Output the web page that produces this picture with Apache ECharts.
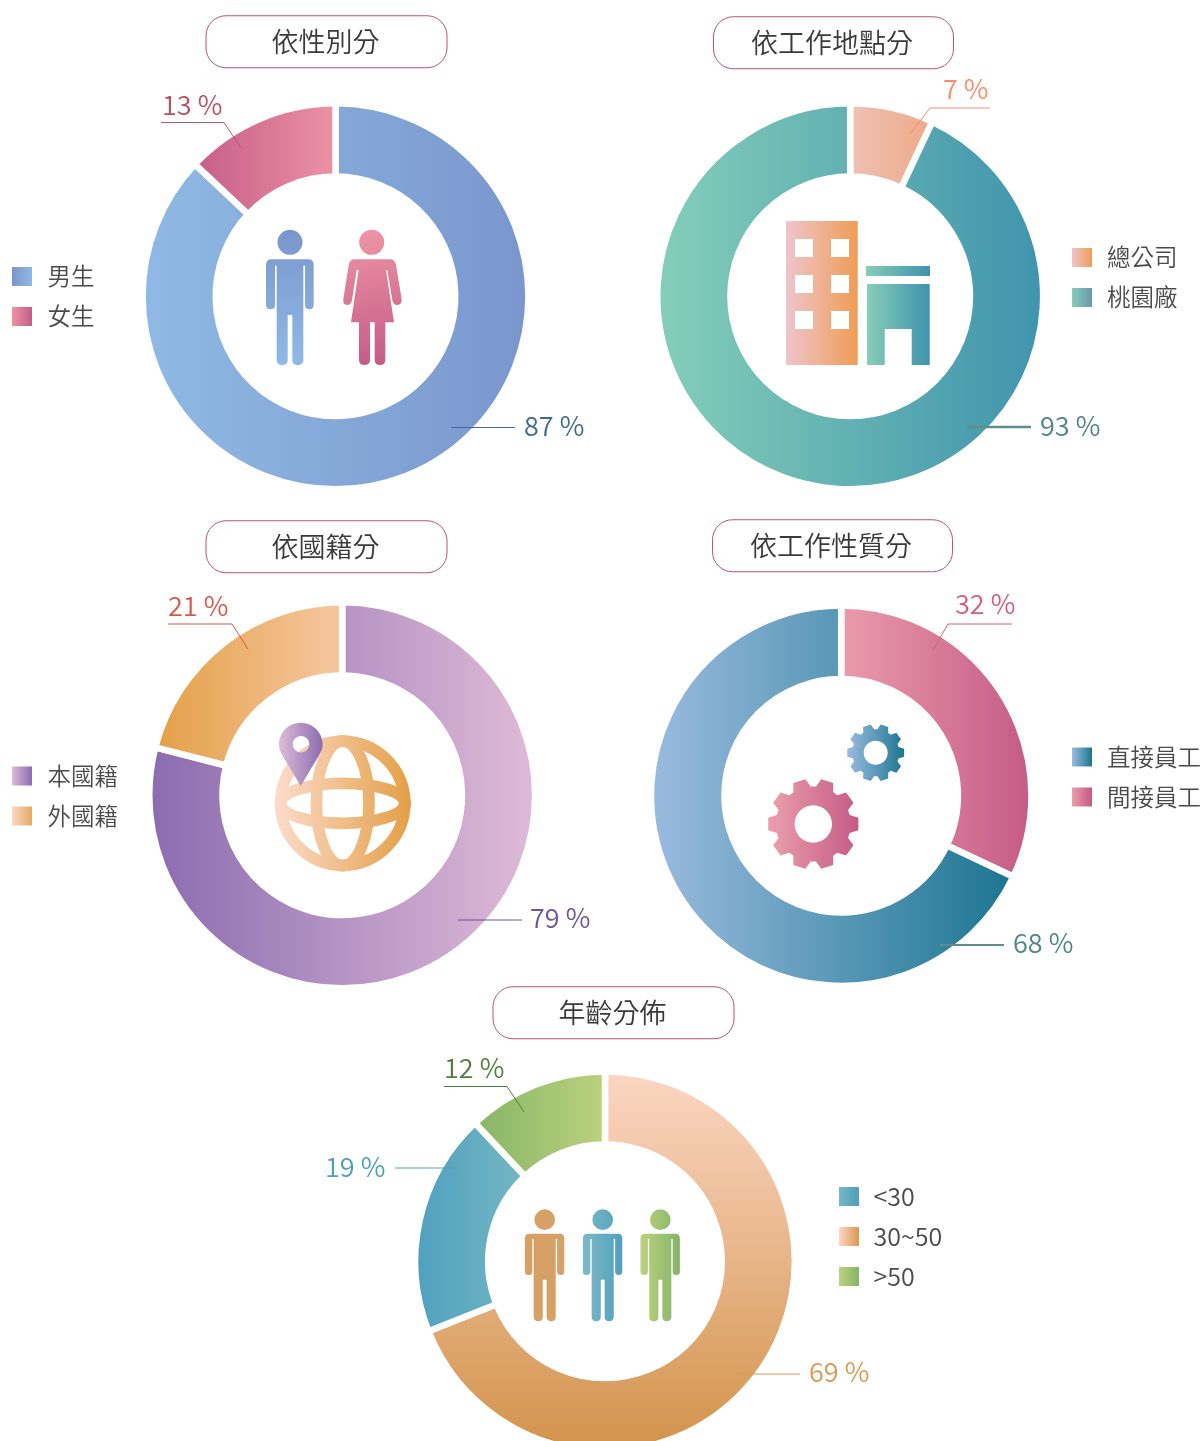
<!DOCTYPE html>
<html><head><meta charset="utf-8">
<style>html,body{margin:0;padding:0;background:#fff;overflow:hidden}#c{width:1202px;height:1441px}</style>
<script src="https://cdn.jsdelivr.net/npm/echarts@6/dist/echarts.min.js"></script>
</head><body><div id="c"></div>
<script>
// ---- data ----
const genderNames = ['男生','女生'];            const genderValues = [87,13];
const siteNames = ['總公司','桃園廠'];          const siteValues = [7,93];
const nationNames = ['本國籍','外國籍'];        const nationValues = [79,21];
const workNames = ['間接員工','直接員工'];      const workValues = [32,68];
const ageNames = ['30~50','<30','>50'];         const ageValues = [69,19,12];
const titles = ['依性別分','依工作地點分','依國籍分','依工作性質分','年齡分佈'];
const legendOrders = [['男生','女生'],['總公司','桃園廠'],['本國籍','外國籍'],['直接員工','間接員工'],['<30','30~50','>50']];

// ---- styling and layout ----
const FONT = '"Noto Sans CJK TC","Noto Sans",sans-serif';
const WEIGHT = 350;
const h = (a,b)=>({type:'linear',x:0,y:0,x2:1,y2:0,colorStops:[{offset:0,color:a},{offset:1,color:b}]});
const v = (a,b)=>({type:'linear',x:0,y:0,x2:0,y2:1,colorStops:[{offset:0,color:a},{offset:1,color:b}]});
const gh = (a,b,x,x2)=>({type:'linear',x,y:0,x2,y2:0,global:true,colorStops:[{offset:0,color:a},{offset:1,color:b}]});
const gv = (a,b,y,y2,x=0,x2=0)=>({type:'linear',x,y,x2,y2,global:true,colorStops:[{offset:0,color:a},{offset:1,color:b}]});

const rings = [
 {c:[335.5,296.3],R:189.7,r:123},{c:[850.2,296.3],R:189.7,r:123},{c:[342.2,795.3],R:189.7,r:123},
 {c:[841.2,795.7],R:187,r:120},{c:[605,1261.3],R:186.6,r:120}];
const GAP = 6.5;
const sliceFills = [
 [h('#8FBAE4','#7A96CD'),h('#C45C88','#EE94A5')],
 [h('#EEC2B8','#EFA985'),h('#85CFB9','#3F93AD')],
 [h('#8A6BAF','#E0BBD8'),h('#E39F46','#F6C8A2')],
 [h('#EB9CAD','#C45A85'),h('#9CBCE0','#1A7590')],
 [v('#FCD7C4','#D2924A'),h('#4F9FBF','#75B8C3'),h('#85B566','#BDD27F')]];
const swatchFills = [
 {'男生':h('#7A96CD','#8FBAE4'),'女生':h('#EE94A5','#C45C88')},
 {'總公司':h('#EEC5CC','#F09C55'),'桃園廠':h('#85CFB9','#6B98AD')},
 {'本國籍':h('#DDBBD8','#8A6BAF'),'外國籍':h('#FCD7C4','#E8A862')},
 {'直接員工':h('#9CBCE0','#1A7590'),'間接員工':h('#EB9CAD','#C45A85')},
 {'<30':h('#75B8C3','#4F9FBF'),'30~50':h('#FCD7C4','#D9994F'),'>50':h('#BDD27F','#85B566')}];
const labelColors = [
 ['#3F6A96','#B9505F'],['#FF8A6E','#4F8585'],['#6D559B','#D8574F'],['#D0607F','#4F8585'],['#D99A53','#4F9FBF','#4F7F3A']];
const lineColors = [
 ['#3F6A96','#C4566F'],['#FF8A6E','#5F8D8A'],['#6D559B','#D8574F'],['#D0607F','#5F8D8A'],['#D99A53','#4F9FBF','#4F7A3F']];
const lineWidths = [[1,1],[1,2.4],[1,1],[1,2.2],[1.2,1,1]];
const labelSpots = [
 [{x:524,y:425.5,line:[[451,427.5],[515,427.5]]},{x:162,y:105,line:[[241,148],[224,122.5],[161,122.5]]}],
 [{x:943,y:88.5,line:[[910,134],[930,108],[990,108]]},{x:1040,y:425.5,line:[[967,427],[1031,427]]}],
 [{x:530,y:917.5,line:[[458,920],[522,920]]},{x:168,y:605.5,line:[[248,649],[232,624],[168,624]]}],
 [{x:955,y:603.5,line:[[933,650],[948,624],[1012,624]]},{x:1013,y:942.5,line:[[940,945],[1004,945]]}],
 [{x:809,y:1372,line:[[737,1374],[800,1374]]},{x:325,y:1166.5,line:[[458,1168],[395,1168]]},{x:444,y:1068,line:[[524,1112],[507,1086.5],[444,1086.5]]}]];
const titleBoxes = [[206,15],[713,16],[206,520],[712,519],[493,986]];
const titleNudgeX = [1,1.5,1,1.5,1], titleNudgeY = 0.5;
const legendLeft = [12,1072,12,1072,839];
const legendCenters = [276.5,257.5,776,757,1196.5];
const legendSizes = [23.5,23.5,23.5,23.5,25];
const legendTextGap = [10.5,10,10.5,10,9.5];
const LEGEND_LIFT = 7;
const TITLE_SIZE = 27, PILL_W = 241, PILL_H = 52.5;

const seriesData = [[genderNames,genderValues],[siteNames,siteValues],[nationNames,nationValues],[workNames,workValues],[ageNames,ageValues]];

const series = seriesData.map(([names,vals],i)=>({
  type:'pie', silent:true, animation:false, startAngle:90, clockwise:true,
  center:rings[i].c, radius:[rings[i].r-GAP/2,rings[i].R+GAP/2],
  avoidLabelOverlap:false,
  itemStyle:{borderColor:'#fff',borderWidth:GAP},
  label:{show:true,position:'outside',formatter:'{c} %',fontFamily:FONT,fontWeight:WEIGHT,fontSize:27},
  labelLine:{show:false},
  labelLayout:p=>{const s=labelSpots[i][p.dataIndex];return {x:s.x,y:s.y,align:'left',verticalAlign:'middle',hideOverlap:false};},
  data:names.map((n,j)=>({name:n,value:vals[j],
    itemStyle:{color:sliceFills[i][j]},
    label:{color:labelColors[i][j]}}))
}));

const legend = legendOrders.map((names,i)=>({
  orient:'vertical',left:legendLeft[i],top:legendCenters[i]-(legendSizes[i]+LEGEND_LIFT)/2,padding:0,
  itemWidth:20,itemHeight:19,itemGap:40-legendSizes[i]-LEGEND_LIFT,selectedMode:false,icon:'rect',
  itemStyle:{borderWidth:0},
  textStyle:{color:'#4a4a4a',fontFamily:FONT,fontWeight:WEIGHT,fontSize:legendSizes[i],lineHeight:legendSizes[i],padding:[0,0,LEGEND_LIFT,legendTextGap[i]]},
  data:names.map(n=>({name:n,itemStyle:{color:swatchFills[i][n],borderWidth:0}}))
}));

const title = titles.map((t,i)=>{
  const px=(PILL_W-TITLE_SIZE*t.length)/2, py=(PILL_H-TITLE_SIZE)/2;
  return {text:t,left:titleBoxes[i][0],top:titleBoxes[i][1],
  padding:[py+titleNudgeY,px+titleNudgeX[i],py-titleNudgeY,px-titleNudgeX[i]],
  borderColor:'#BE4F78',borderWidth:1,borderRadius:20,
  textStyle:{color:'#3a3a3a',fontFamily:FONT,fontWeight:WEIGHT,fontSize:TITLE_SIZE,lineHeight:TITLE_SIZE}};
});

// ---- pictogram helpers (decoration inside the rings) ----
let shapeId=0;
function pathEl(d,style){
  const name='iconShape'+(shapeId++);
  echarts.graphic.registerShape(name,echarts.graphic.extendPath(d));
  return {type:name,silent:true,style};
}
function mapPath(d,sx,sy,ox,oy,s){
  return d.replace(/(-?\d+(?:\.\d+)?),(-?\d+(?:\.\d+)?)/g,(m,a,b)=>(ox+(+a-sx)/3*s).toFixed(2)+','+(oy+(+b-sy)/3*s).toFixed(2));
}
const MAN='M78,165 Q78,148 95,148 L205,148 Q221,148 221,165 L221,285 Q221,298 208,298 Q195,298 195,285 L195,167 L190,167 L190,450 Q190,465 173,465 Q157,465 157,450 L157,315 L143,315 L143,450 Q143,465 127,465 Q110,465 110,450 L110,167 L105,167 L105,285 Q105,298 92,298 Q78,298 78,285 Z';
const WOMAN='M326,165 Q328,148 345,148 L450,148 Q465,148 468,165 L485,268 Q486,285 471,285 Q460,285 457,270 L442,180 L438,180 L462,337 L436,337 L436,450 Q436,465 420,465 Q404,465 404,450 L404,337 L390,337 L390,450 Q390,465 373,465 Q357,465 357,450 L357,337 L333,337 L356,180 L350,180 L336,270 Q333,285 322,285 Q308,285 310,268 Z';
const PIN='M122,228 L68,138 C60,125 57,115 57,103 C57,67 86,38 122,38 C158,38 188,67 188,103 C188,115 184,125 176,138 Z M123,78 C109,78 98,89 98,102 C98,116 109,127 123,127 C137,127 148,116 148,102 C148,89 137,78 123,78 Z';
function man(cx,cy,s,fill){
  return [{type:'circle',silent:true,shape:{cx,cy,r:12.5*s},style:{fill}},
          pathEl(mapPath(MAN,150,97,cx,cy,s),{fill})];
}
function gear(cx,cy,tip,root,hole){
  const pts=[];
  for(let i=0;i<10;i++){
    const a=i*36;
    [[-14,root],[-8,tip],[8,tip],[14,root]].forEach(([d,r])=>{
      const t=(a+d)*Math.PI/180; pts.push((cx+r*Math.cos(t)).toFixed(2)+','+(cy+r*Math.sin(t)).toFixed(2));
    });
  }
  const k=hole*0.5523;
  const holeD=`M${cx+hole},${cy} C${cx+hole},${cy-k} ${cx+k},${cy-hole} ${cx},${cy-hole} C${cx-k},${cy-hole} ${cx-hole},${cy-k} ${cx-hole},${cy} C${cx-hole},${cy+k} ${cx-k},${cy+hole} ${cx},${cy+hole} C${cx+k},${cy+hole} ${cx+hole},${cy+k} ${cx+hole},${cy} Z`;
  return 'M'+pts.join(' L')+' Z '+holeD;
}
function rectCW(x,y,x2,y2){return `M${x},${y} L${x2},${y} L${x2},${y2} L${x},${y2} Z`;}
function rectCCW(x,y,x2,y2){return `M${x},${y} L${x},${y2} L${x2},${y2} L${x2},${y} Z`;}
const towerD=rectCW(786,221,857.7,365)+' '+[239,275,311].map(y=>[795,831].map(x=>rectCCW(x,y,x+18,y+18)).join(' ')).join(' ');
const shopD=`M867,284 L929.7,284 L929.7,365 L911.7,365 L911.7,329 L884.7,329 L884.7,365 L867,365 Z`;

const gfx=[];
// gender
gfx.push(...man(290,242.3,1,gv('#7A96CD','#8FBAE4',230,365)));
const wf=gv('#EE94A5','#C45C88',232,362,360,385);
gfx.push({type:'circle',silent:true,shape:{cx:371.7,cy:242.3,r:12.5},style:{fill:wf}},
         pathEl(mapPath(WOMAN,0,0,240,210,1),{fill:wf}));
// buildings
gfx.push(pathEl(towerD,{fill:gh('#EEC5CC','#F09C55',786,857.7)}),
         {type:'rect',silent:true,shape:{x:866,y:266,width:64,height:10},style:{fill:gh('#86CEB8','#3F93AD',866,930)}},
         pathEl(shopD,{fill:gh('#86CEB8','#3F93AD',867,930)}));
// globe
const gs=gh('#FCDCCB','#E39F46',275,411);
const gx=342.7,gy=803.3;
gfx.push({type:'circle',silent:true,shape:{cx:gx,cy:gy,r:62},style:{fill:'none',stroke:gs,lineWidth:11.7}},
         {type:'ellipse',silent:true,shape:{cx:gx,cy:gy,rx:26.3,ry:62.5},style:{fill:'none',stroke:gs,lineWidth:11.7}},
         {type:'ellipse',silent:true,shape:{cx:gx,cy:gy,rx:62.5,ry:20},style:{fill:'none',stroke:gs,lineWidth:11.7}},
         pathEl(mapPath(PIN,0,0,260,710,1),{fill:gh('#DDBBD8','#8A6BAF',279,323)}));
// gears
gfx.push(pathEl(gear(813.3,824,45.5,37.5,18.7),{fill:gh('#EBA0AE','#C45A85',768,859)}),
         pathEl(gear(875.7,752.7,28.7,23.5,12),{fill:gh('#9CBCE0','#1A7590',847,905)}));
// age group people
gfx.push(...man(544.7,1219.7,0.827,'#D6A066'));
gfx.push(...man(602.7,1219.7,0.827,gh('#7DBAC4','#4F9FBF',583,623)));
gfx.push(...man(660.3,1219.7,0.827,gh('#BDD27F','#84B368',640,681)));
// leader lines
labelSpots.forEach((spots,i)=>spots.forEach((s,j)=>gfx.push({type:'polyline',silent:true,z:10,
  shape:{points:s.line},style:{fill:'none',stroke:lineColors[i][j],lineWidth:lineWidths[i][j]}})));

const chart=echarts.init(document.getElementById('c'),null,{renderer:'canvas',width:1202,height:1441});
chart.setOption({animation:false,backgroundColor:'#fff',title,legend,series,graphic:{elements:gfx}});
</script></body></html>
